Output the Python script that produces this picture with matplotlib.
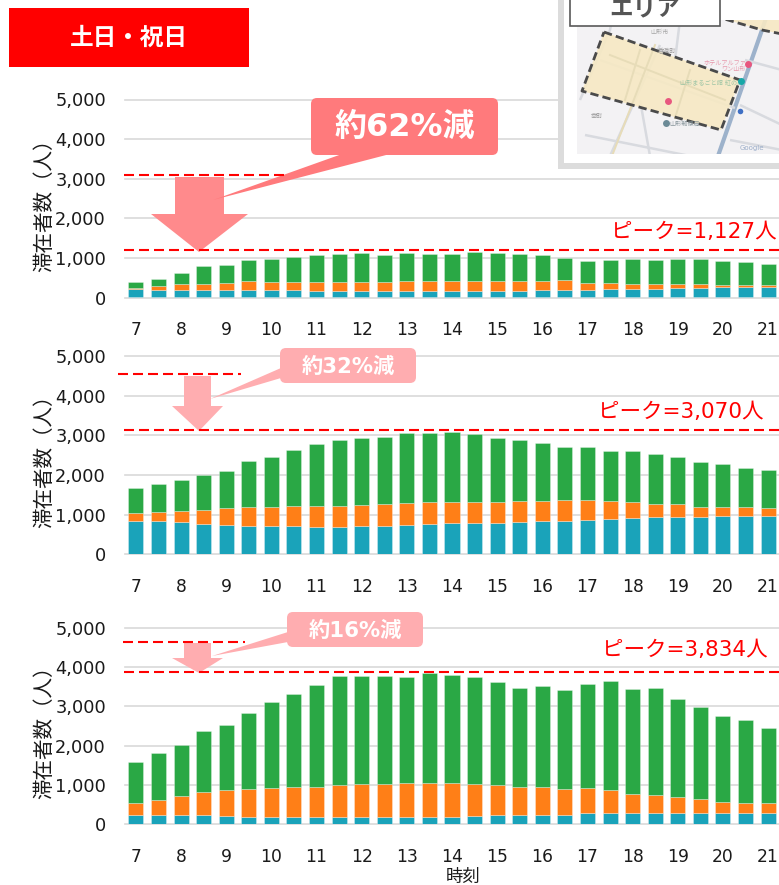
import matplotlib
matplotlib.use("Agg")
import matplotlib.pyplot as plt
import numpy as np
from matplotlib.patches import Rectangle, Polygon, FancyBboxPatch

W, H = 779, 885
JP = ['Noto Sans CJK JP', 'DejaVu Sans']
LATIN_JP = ['DejaVu Sans', 'Noto Sans CJK JP']

slots = ["7", "", "8", "", "9", "", "10", "", "11", "", "12", "", "13", "", "14", "",
         "15", "", "16", "", "17", "", "18", "", "19", "", "20", "", "21"]
y_ticks = [0, 1000, 2000, 3000, 4000, 5000]
y_labels = ["0", "1,000", "2,000", "3,000", "4,000", "5,000"]

teal_1 = [210,176,185,176,168,168,168,176,151,151,151,151,151,151,151,151,151,151,168,176,176,193,202,202,218,227,244,244,244]
orange_1 = [8,93,134,160,193,227,219,202,227,227,236,236,252,244,244,261,261,261,244,253,177,160,134,117,118,92,67,67,50]
green_1 = [152,193,286,437,454,538,579,622,672,698,722,680,697,689,689,715,697,672,655,563,563,571,614,622,622,631,605,563,530]

teal_2 = [840,840,798,748,723,714,697,689,672,672,689,697,731,748,765,765,773,798,824,840,849,874,891,916,924,941,950,950,966]
orange_2 = [194,227,286,353,437,479,496,513,530,530,538,555,555,555,538,546,538,538,512,505,504,462,420,345,320,244,243,226,194]
green_2 = [621,706,782,882,916,1135,1252,1420,1571,1680,1681,1706,1748,1739,1767,1706,1597,1546,1454,1344,1336,1269,1277,1260,1193,1134,1076,984,949]

teal_3 = [229,212,212,212,195,186,178,169,169,169,169,169,169,186,186,195,212,220,229,237,263,271,271,271,271,271,271,271,288]
orange_3 = [296,398,508,593,669,704,729,763,772,823,848,848,873,865,848,822,788,729,695,661,644,602,500,458,415,373,288,263,229]
green_3 = [1051,1195,1289,1568,1644,1932,2195,2382,2602,2771,2746,2754,2704,2783,2763,2729,2602,2500,2576,2500,2652,2771,2670,2729,2492,2339,2195,2110,1932]

TEAL, ORANGE, GREEN = '#1aa3ba', '#ff7f17', '#2aa845'
L, R = 124.7, 779.3

fig = plt.figure(figsize=(W/100, H/100), dpi=100, facecolor='white')

panels = [
    (297.5, 99.5, teal_1, orange_1, green_1, 200),
    (554.3, 356.0, teal_2, orange_2, green_2, 456),
    (824.3, 627.7, teal_3, orange_3, green_3, 727),
]
axes = []
for zero, top, t, o, g, ylab_c in panels:
    ax = fig.add_axes([L/W, 1-zero/H, (R-L)/W, (zero-top)/H])
    x = np.arange(len(slots))
    t, o, g = np.array(t), np.array(o), np.array(g)
    kw = dict(width=0.665, edgecolor=(1, 1, 1, 0.35), linewidth=0.6, zorder=3)
    ax.bar(x, t, bottom=12, color=TEAL, **kw)
    ax.bar(x, o, bottom=12+t, color=ORANGE, **kw)
    ax.bar(x, g, bottom=12+t+o, color=GREEN, **kw)
    ax.set_xlim(-0.5, 28.5)
    ax.set_ylim(0, 5000)
    ax.set_yticks(y_ticks)
    ax.set_yticklabels(y_labels, fontsize=12.8, color='#1a1a1a')
    ax.set_xticks(x)
    ax.set_xticklabels(slots, fontsize=12.3, color='#1a1a1a')
    ax.tick_params(axis='both', length=0)
    ax.tick_params(axis='y', pad=13.5)
    ax.tick_params(axis='x', pad=17)
    for s in ax.spines.values():
        s.set_visible(False)
    for yt in y_ticks:
        ax.axhline(yt, color='#d9d9d9', lw=1.2, zorder=1, clip_on=False)
    ax.set_ylabel("滞在者数（人）", family=JP, fontsize=14.8, color='#1a1a1a')
    ax.yaxis.set_label_coords((55-L)/(R-L), (zero-ylab_c)/(zero-top))
    axes.append(ax)
axes[2].set_xlabel("時刻", family=JP, fontsize=12.5, color='#1a1a1a')
axes[2].xaxis.set_label_coords((463-L)/(R-L), (824.3-877)/(824.3-627.7))
axes[2].xaxis.label.set_verticalalignment('center')

# overlay in pixel coordinates for the decorations
ov = fig.add_axes([0, 0, 1, 1], zorder=10)
ov.set_xlim(0, W)
ov.set_ylim(H, 0)
ov.axis('off')
ov.patch.set_alpha(0)

# title tag
ov.add_patch(Rectangle((9, 8), 240, 59, fc='#ff0000', ec='none'))
ov.text(129, 38, "土日・祝日", family=JP, fontsize=17, fontweight='bold', color='white', ha='center', va='center')

def dashed(y, x0, x1):
    ov.plot([x0, x1], [y, y], color='#ff0000', lw=1.5, dashes=(4.8, 2.4), solid_capstyle='butt', dash_capstyle='butt')

def arrow(c, sx0, sx1, y0, ysh, hx0, hx1, tip):
    ov.add_patch(Polygon([(sx0, y0), (sx1, y0), (sx1, ysh), (hx1, ysh), tip, (hx0, ysh), (sx0, ysh)], fc=c, ec='none'))

def callout(c, x0, y0, x1, y1, tail, text, tx, ty, fs):
    r = 6
    ov.add_patch(FancyBboxPatch((x0+r, y0+r), x1-x0-2*r, y1-y0-2*r,
                                boxstyle=f"round,pad={r},rounding_size={r}", fc=c, ec='none'))
    ov.add_patch(Polygon(tail, fc=c, ec='none'))
    ov.text(tx, ty, text, family=LATIN_JP, fontsize=fs, fontweight='bold', color='white', ha='center', va='center')

# panel 1
dashed(175, 124, 284)
dashed(250, 124, 779)
arrow('#ff8a8c', 175, 224, 177, 214, 151, 248, (199, 252))
callout('#ff7a7c', 311, 98, 498, 155, [(342, 154), (390, 154), (213, 200)], "約62%減", 404.5, 127, 23)
ov.text(694, 232.5, "ピーク=1,127人", family=LATIN_JP, fontsize=15.5, color='#ff0000', ha='center', va='center')

# panel 2
dashed(374, 118, 241)
dashed(430, 124, 779)
arrow('#ffadb0', 184, 211, 376, 406, 172, 223, (199, 431))
callout('#ffadb0', 280, 348, 416, 383, [(281, 368), (281, 378), (210, 399)], "約32%減", 348.5, 366.5, 15.3)
ov.text(681, 411.5, "ピーク=3,070人", family=LATIN_JP, fontsize=15.5, color='#ff0000', ha='center', va='center')

# panel 3
dashed(642, 123, 245)
dashed(672, 124, 779)
arrow('#ffadb0', 184, 211, 643, 658, 172, 223, (199, 673))
callout('#ffadb0', 287, 612, 423, 647, [(288, 632), (288, 642), (212, 656)], "約16%減", 355, 630.5, 15.3)
ov.text(684.5, 650.5, "ピーク=3,834人", family=LATIN_JP, fontsize=15.5, color='#ff0000', ha='center', va='center')

# map inset
ov.add_patch(Rectangle((558, -5), 230, 174, fc='#dcdcdc', ec='none'))
ov.add_patch(Rectangle((564, -5), 220, 168, fc='white', ec='none'))
ov.add_patch(Rectangle((577, 20), 205, 134, fc='#f3f2f4', ec='none', zorder=2))
clip = Rectangle((577, 20), 202, 134, transform=ov.transData)
area1 = [(604, 32), (740, 80), (721, 130), (582, 91)]
area2 = [(728, -2), (721, 18), (762, 30), (782, 34), (782, -2)]
for roads, col, lw in [
    ([[(762, 30), (718, 156)], [(772, 0), (762, 30)]], '#9db2cb', 3.0),
    ([[(612, 20), (610, 30), (580, 100)], [(660, 45), (610, 156)], [(740, 105), (782, 125)],
      [(600, 60), (735, 108)], [(585, 135), (690, 156)], [(640, 100), (650, 156)],
      [(745, 60), (782, 70)], [(730, 140), (782, 150)], [(680, 20), (675, 60)]], '#d8dadf', 1.8),
]:
    for rd in roads:
        l, = ov.plot(*zip(*rd), color=col, lw=lw, zorder=3, solid_capstyle='butt')
        l.set_clip_path(clip)
for poly in (area1, area2):
    p = Polygon(poly, fc='#f7e9c4', ec='none', alpha=0.9, zorder=4)
    ov.add_patch(p)
    p.set_clip_path(clip)
for rd in [[(655, 45), (612, 156)], [(610, 55), (725, 100)], [(640, 50), (625, 100)], [(690, 70), (675, 118)]]:
    l, = ov.plot(*zip(*rd), color='#e7dcb8', lw=1.4, zorder=5)
    l.set_clip_path(clip)
for poly, closed in ((area1, True), (area2, False)):
    pts = poly + [poly[0]] if closed else poly[:4]
    l, = ov.plot(*zip(*pts), color='#4a4a4a', lw=2.0, dashes=(3, 1.5), zorder=6, dash_capstyle='butt')
    l.set_clip_path(clip)
for tx, ty, s, c, fs in [
    (712, 83, "山形まるごと館 紅の蔵", '#8fbf9f', 4.4),
    (685, 124, "山形郵便局", '#7a8a90', 4.4),
    (728, 63, "ホテルアルファー", '#e58aa0', 4.4),
    (733, 69, "ワン山形", '#e58aa0', 4.4),
    (660, 32, "山形市", '#999999', 4.4),
    (667, 50, "香澄町", '#888888', 4.4),
    (597, 116, "幸町", '#888888', 4.4),
    (752, 148, "Google", '#8aa0c0', 5),
]:
    ov.text(tx, ty, s, family=LATIN_JP, fontsize=fs, color=c, ha='center', va='center', zorder=7, alpha=0.85)
for px, py, c, ms in [(748, 64, '#e8577f', 5), (668, 101, '#e8577f', 5), (741, 81, '#17a8a8', 5),
                      (740, 111, '#3f6fc4', 4), (666, 123, '#6b8a96', 5)]:
    ov.plot([px], [py], 'o', color=c, ms=ms, mec='none', zorder=7)
ov.add_patch(Rectangle((570, -5), 150, 31, fc='white', ec='#595959', lw=1.2, zorder=8))
ov.text(645, 8, "エリア", family=JP, fontsize=17, fontweight='bold', color='#555555', ha='center', va='center', zorder=9)

fig.savefig("out.png", dpi=100)
